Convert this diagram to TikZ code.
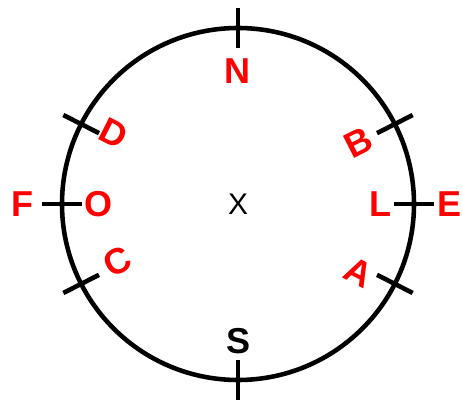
\documentclass[tikz,border=0pt]{standalone}
\usepackage{fontspec}
\setmainfont{Liberation Sans}
\begin{document}
\begin{tikzpicture}[
  lbl/.style={font=\fontsize{20.5}{24}\selectfont\bfseries, text=#1, inner sep=0pt},
  lbl/.default=red,
  tickmark/.style={line width=2.6pt}
]
\useasboundingbox (-4.76,-3.92) rectangle (4.48,4.08);
\draw[line width=2.6pt] (0,0) circle (3.52);
% ticks on the rim
\foreach \a in {0,27,90,153,180,207,270,333}
  \draw[tickmark] (\a:3.12) -- (\a:3.92);
\node[font=\fontsize{17}{20}\selectfont, inner sep=0pt] (ctr) at (0,0) {X};
\node[lbl] (north) at (0,2.66) {N};
\node[lbl=black] (south) at (0.02,-2.74) {S};
\node[lbl] (west) at (-4.30,0) {F};
\node[lbl] (westin) at (-2.78,0) {O};
\node[lbl] (eastin) at (2.84,0) {L};
\node[lbl] (east) at (4.24,0) {E};
\node[lbl, rotate=-27] (nw) at (-2.48,1.42) {D};
\node[lbl, rotate=27] (ne) at (2.40,1.22) {B};
\node[lbl, rotate=27] (sw) at (-2.42,-1.16) {C};
\node[lbl, rotate=-27] (se) at (2.42,-1.36) {A};
\end{tikzpicture}
\end{document}
